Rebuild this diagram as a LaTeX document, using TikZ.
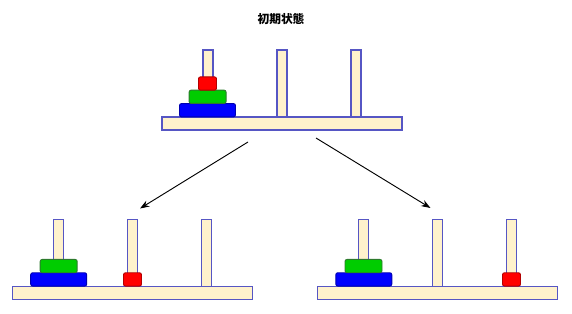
\documentclass[tikz,border=0pt]{standalone}
\usepackage{fontspec}
\newfontfamily\cjkfont{Noto Sans CJK JP}
\usetikzlibrary{arrows.meta}
\definecolor{cream}{HTML}{FFF2CC}
\definecolor{rodline}{HTML}{5656C4}
\definecolor{redline}{HTML}{B20000}
\definecolor{greenfill}{HTML}{00CC00}
\definecolor{greenline}{HTML}{2D7A2D}
\definecolor{bluefill}{HTML}{0000FF}
\definecolor{blueline}{HTML}{0000B0}
\newcommand\pxu{0.75pt}

\begin{document}
\begin{tikzpicture}[
    x=0.75pt, y=-0.75pt,
    >=Stealth,
    arr/.style={-{Stealth[length=7pt, width=5pt]}, line width=0.7pt},
    blk/.style={draw=rodline, fill=cream, line width=0.8pt, inner sep=0pt, outer sep=0pt},
    rod/.style={blk, minimum width=10*\pxu, minimum height=67*\pxu},
    board/.style={blk, minimum width=240*\pxu, minimum height=13*\pxu},
    disk/.style={rounded corners=1.5pt, line width=0.7pt, inner sep=0pt, outer sep=0pt, minimum height=13.3*\pxu},
    rdisk/.style={disk, draw=redline, fill=red, minimum width=18*\pxu},
    gdisk/.style={disk, draw=greenline, fill=greenfill, minimum width=37*\pxu},
    bdisk/.style={disk, draw=blueline, fill=bluefill, minimum width=56*\pxu},
]
\useasboundingbox (0,0) rectangle (572,314);
% === Title ===
\node[font=\cjkfont\bfseries\fontsize{8.8}{10}\selectfont] (title) at (281,19) {初期状態};
% === Boards with three rods each ===
\foreach \nm/\x/\y in {top/282/0, lft/132.3/169.2, rgt/437.5/169.2} {
    \foreach \i/\dx in {1/-74, 2/0, 3/74} {
        \node[rod] (\nm rod\i) at (\x+\dx, 83.5+\y) {};
    }
    \node[board] (\nm base) at (\x, 123.5+\y) {};
}
% === Disks ===
% initial state: all on rod 1
\node[bdisk] (topblue) at (207.5,110.2) {};
\node[gdisk] (topgreen) at (207.6,96.8) {};
\node[rdisk] (topred) at (207.5,83.5) {};
% left: small disk to rod 2
\node[bdisk] (lftblue) at (58.7,279.4) {};
\node[gdisk] (lftgreen) at (58.7,266.1) {};
\node[rdisk] (lftred) at (132.5,279.4) {};
% right: small disk to rod 3
\node[bdisk] (rgtblue) at (363.8,279.4) {};
\node[gdisk] (rgtgreen) at (363.5,266.1) {};
\node[rdisk] (rgtred) at (511.5,279.4) {};
% === Arrows ===
\coordinate (lstart) at (248,142);
\coordinate (lend) at (140,208.5);
\coordinate (rstart) at (316,138);
\coordinate (rend) at (430.5,208);
\draw[arr] (lstart) -- (lend);
\draw[arr] (rstart) -- (rend);
\end{tikzpicture}
\end{document}
